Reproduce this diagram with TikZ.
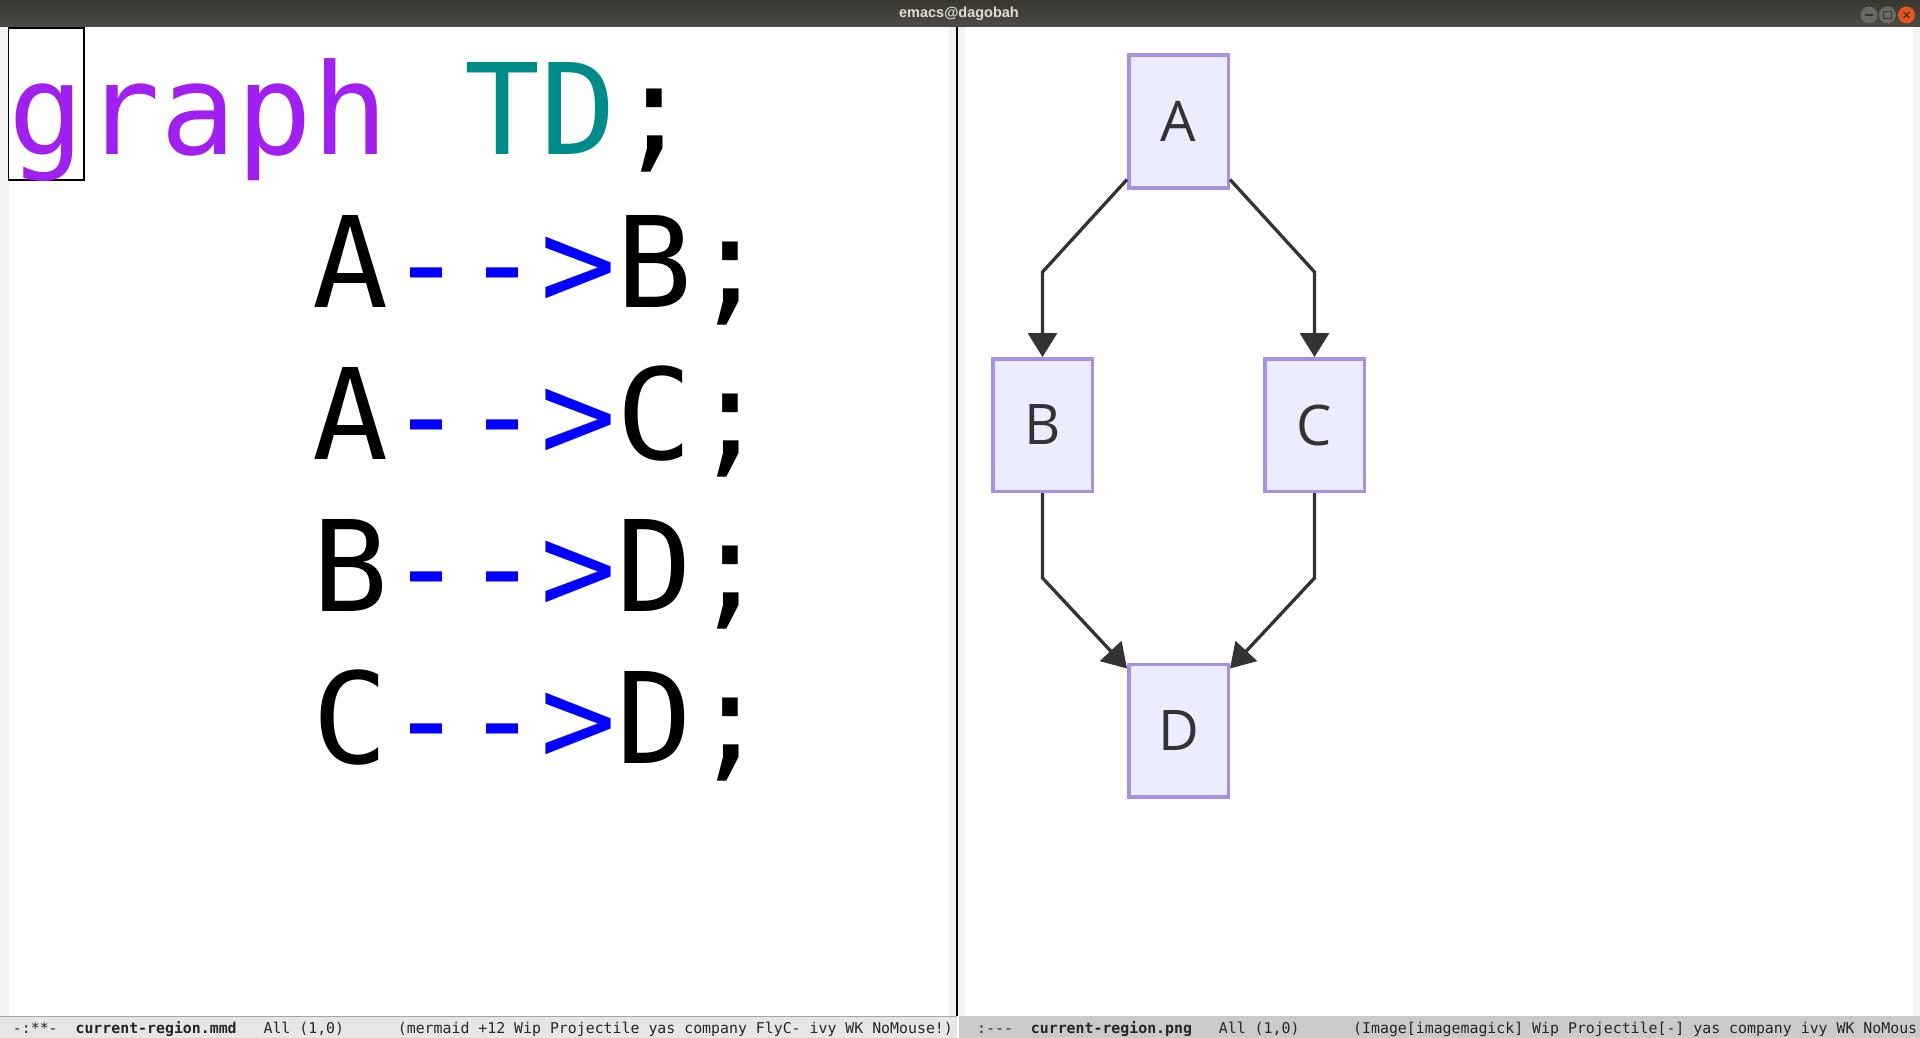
\documentclass[tikz,border=0pt]{standalone}
\usepackage{fontspec}
\usetikzlibrary{positioning,arrows.meta}
\newfontfamily\codefont{DejaVu Sans Mono}
\newfontfamily\labelfont{Open Sans}
\newfontfamily\barfont{Liberation Sans}
\definecolor{kwpurple}{HTML}{A020F0}
\definecolor{kwteal}{HTML}{008B8B}
\definecolor{nodefill}{HTML}{ECECFF}
\definecolor{nodeline}{HTML}{AA90E4}
\definecolor{edgegray}{HTML}{333333}
\definecolor{bartop}{HTML}{38372F}
\definecolor{barbottom}{HTML}{4E4B46}
\definecolor{bartext}{HTML}{DFDBD2}
\definecolor{btngray}{HTML}{6A6965}
\definecolor{btnred}{HTML}{E9541F}
\definecolor{fringe}{HTML}{F2F2F2}
\definecolor{modeon}{HTML}{E6E6E6}
\definecolor{modeoff}{HTML}{CACACA}
\tikzset{node distance=303.5pt and 136pt, on grid, auto}
\tikzset{
  box/.style={draw=nodeline, fill=nodefill, line width=3.5pt, minimum width=99.5pt,
    minimum height=132.5pt, inner sep=0pt, text=edgegray,
    font=\labelfont\fontsize{56}{56}\selectfont},
  link/.style={draw=edgegray, line width=3.3pt, -{Triangle[length=24pt,width=29pt]}},
  code/.style={anchor=base west, inner sep=0pt,
    font=\codefont\fontsize{126.25}{130}\selectfont},
  modeline/.style={anchor=base west, inner sep=0pt, text=black!85,
    font=\codefont\fontsize{14.87}{16}\selectfont},
}

\begin{document}
\begin{tikzpicture}[x=1pt,y=-1pt]
  \useasboundingbox (0,0) rectangle (1920,1038);
  \fill[white] (0,0) rectangle (1920,1038);
  % window frame
  \shade[top color=bartop, bottom color=barbottom] (0,0) rectangle (1920,27);
  \node[text=bartext, font=\barfont\bfseries\fontsize{14.5}{16}\selectfont] (title) at (959,13.5) {emacs@dagobah};
  \fill[btngray] (1869,15) circle (8.5pt);
  \fill[btngray] (1887.5,15) circle (8.5pt);
  \fill[btnred] (1906.5,15) circle (8.5pt);
  \draw[bartop, line width=1.5pt] (1865,15) -- (1873,15);
  \draw[bartop, line width=1.2pt] (1883.5,11.5) rectangle (1891.5,18.5);
  \draw[bartop, line width=1.3pt] (1903.5,12) -- (1909.5,18) (1903.5,18) -- (1909.5,12);
  \fill[fringe] (0,27) rectangle (8.5,1016);
  \fill[fringe] (949,27) rectangle (956,1016);
  \fill[black] (956,27) rectangle (958,1016);
  \fill[fringe] (958,27) rectangle (965,1016);
  \fill[fringe] (1913,27) rectangle (1920,1016);
  % left buffer
  \draw[line width=1.2pt] (8.5,28) rectangle (84,180);
  \node[code] (head) at (8.5,155) {\textcolor{kwpurple}{graph} \textcolor{kwteal}{TD};};
  \node[code] (ab) at (312.5,307) {A\textcolor{blue}{-\kern0pt-\kern0pt>}B;};
  \node[code] (ac) at (312.5,459) {A\textcolor{blue}{-\kern0pt-\kern0pt>}C;};
  \node[code] (bd) at (312.5,611) {B\textcolor{blue}{-\kern0pt-\kern0pt>}D;};
  \node[code] (cd) at (312.5,763) {C\textcolor{blue}{-\kern0pt-\kern0pt>}D;};
  % right buffer
  \node[box] (A) at (1178.5,121.5) {A};
  \node[box] (B) [below left=of A] {B};
  \node[box] (C) [below right=of A] {C};
  \node[box] (D) [below=609pt of A] {D};
  \draw[link] ([yshift=10pt]A.south west) -- ([yshift=85pt]B.north) -- (B.north);
  \draw[link] ([yshift=10pt]A.south east) -- ([yshift=85pt]C.north) -- (C.north);
  \draw[link] (B.south) -- ([yshift=-85pt]B.south) -- ([yshift=-6pt]D.north west);
  \draw[link] (C.south) -- ([yshift=-85pt]C.south) -- ([yshift=-6pt]D.north east);
  % mode lines
  \fill[modeon] (0,1016) rectangle (957,1038);
  \draw[black!35, line width=1pt] (0,1016.5) -- (957,1016.5);
  \fill[modeoff] (959,1016) rectangle (1920,1038);
  \node[modeline] (leftmode) at (12.7,1033) {-:**-\ \ \textbf{current-region.mmd}\ \ \ All (1,0)\ \ \ \ \ \ (mermaid +12 Wip Projectile yas company FlyC- ivy WK NoMouse!)};
  \node[modeline] (rightmode) at (977,1033) {:-\kern0pt-\kern0pt-\ \ \textbf{current-region.png}\ \ \ All (1,0)\ \ \ \ \ \ (Image[imagemagick] Wip Projectile[-] yas company ivy WK NoMous};
\end{tikzpicture}
\end{document}
